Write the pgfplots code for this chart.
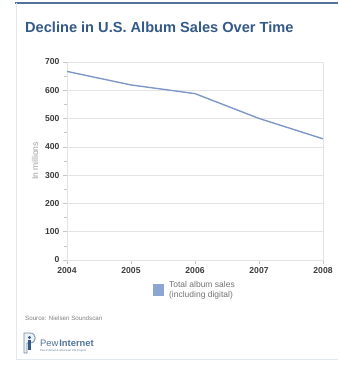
\documentclass[border=0pt]{standalone}
\usepackage{pgfplots}
\pgfplotsset{compat=1.18}
\usepackage{fontspec}
\setmainfont{Liberation Sans}
\definecolor{titleblue}{RGB}{52,90,135}
\definecolor{linecol}{RGB}{128,152,200}
\definecolor{legcol}{RGB}{140,166,212}
\definecolor{gridcol}{RGB}{228,228,228}
\definecolor{tickcol}{RGB}{60,60,60}
\definecolor{framecol}{RGB}{225,232,240}
\begin{document}
\begin{tikzpicture}
\useasboundingbox (0pt,0pt) rectangle (338pt,-366pt);
\fill[white] (0pt,0pt) rectangle (338pt,-366pt);
% frame lines
\draw[titleblue!85,line width=1.6pt] (15pt,-3pt) -- (338pt,-3pt);
\draw[framecol,line width=0.6pt] (16pt,-3pt) -- (16pt,-359pt) -- (338pt,-359pt);
\node[anchor=base west,inner sep=0,font=\fontsize{14.6}{17}\selectfont\bfseries,text=titleblue] at (25pt,-33pt) {Decline in U.S. Album Sales Over Time};
\begin{axis}[
  at={(67pt,-260pt)}, anchor=south west,
  scale only axis, width=256pt, height=198pt,
  xmin=2004, xmax=2008, ymin=0, ymax=700,
  xtick={2004,2005,2006,2007,2008},
  xticklabels={2004,2005,2006,2007,2008},
  ytick={0,100,...,700},
  minor y tick num=1,
  ymajorgrids,
  grid style={gridcol,line width=0.6pt},
  axis line style={gridcol,line width=0.6pt},
  tick style={gridcol!70!gray,line width=0.5pt},
  major tick length=4pt, minor tick length=3pt,
  tick align=outside,
  xtick pos=bottom, ytick pos=left,
  ticklabel style={font=\fontsize{8.6}{9}\selectfont\bfseries,text=tickcol},
  /pgf/number format/assume math mode=true,
  /pgf/number format/1000 sep={},
  ylabel={In millions},
  ylabel style={font=\fontsize{8.5}{9}\selectfont,text=gray!75,yshift=0pt},
  legend style={at={(0.334,-0.095)},anchor=north west,draw=none,fill=none,inner sep=0pt,
    font=\fontsize{8.5}{10}\selectfont,text=gray!90!black,column sep=3pt,
    nodes={align=left,inner sep=2pt}},
  legend cell align=left,
]
\addplot[linecol,line width=1.4pt,mark=none,
  legend image code/.code={\fill[legcol] (0pt,-5pt) rectangle (10pt,5pt);}]
  coordinates {(2004,666.7) (2005,618.9) (2006,588.2) (2007,500.5) (2008,428.4)};
\addlegendentry{Total album sales\\(including digital)}
\end{axis}
\node[anchor=base west,inner sep=0,font=\fontsize{6.2}{7}\selectfont,text=gray] at (25pt,-320pt) {Source: Nielsen Soundscan};
% logo
\draw[titleblue!70,line width=0.8pt,fill=titleblue!8] (24pt,-353pt) -- (24pt,-333pt) -- (30pt,-333pt) .. controls (37pt,-333pt) and (37pt,-343pt) .. (30pt,-343pt) -- (27pt,-343pt) -- (27pt,-353pt) -- cycle;
\fill[titleblue] (29.5pt,-337.5pt) circle (1.7pt);
\fill[titleblue] (28pt,-340pt) rectangle (31pt,-350pt);
\node[anchor=base west,inner sep=0,font=\fontsize{9.4}{11}\selectfont,text=titleblue!85] at (40pt,-346pt) {Pew\hspace{0.8pt}\textbf{Internet}};
\node[anchor=base west,inner sep=0,font=\fontsize{2.8}{3}\selectfont,text=titleblue!80] at (40pt,-351pt) {Pew Internet \& American Life Project};
\end{tikzpicture}
\end{document}
